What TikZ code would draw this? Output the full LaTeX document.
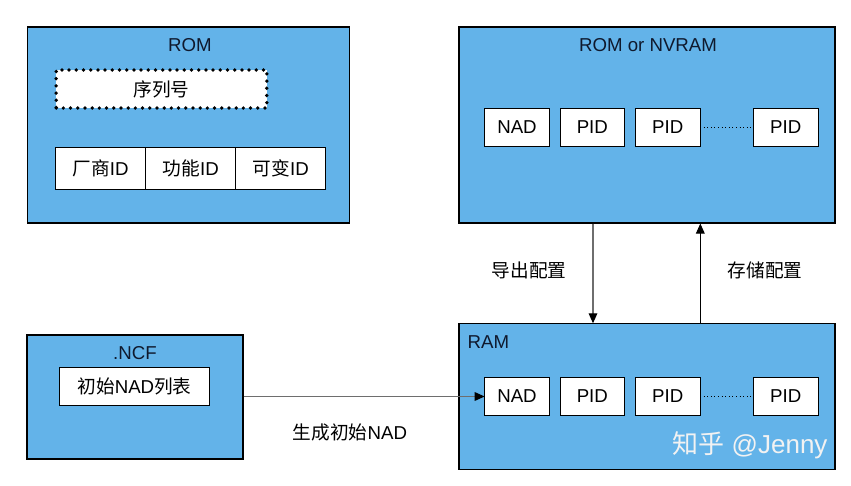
\documentclass[tikz,border=0pt]{standalone}
\usepackage{fontspec}
\setmainfont{Liberation Sans}
\newfontfamily\cjk{Noto Sans CJK SC}
\usetikzlibrary{positioning, arrows.meta}
\definecolor{panelbg}{RGB}{99,179,233}
\definecolor{wire}{RGB}{110,110,110}
\definecolor{ink}{RGB}{15,25,45}
\tikzset{
  panel/.style={rectangle, draw, fill=panelbg, line width=0.8pt, inner sep=0pt},
  cell/.style={rectangle, draw, fill=white, line width=0.6pt, outer sep=0pt, minimum width=48.5pt, minimum height=28.5pt, inner sep=0pt, font=\fontsize{14}{16}\selectfont},
  dotbox/.style={cell, minimum width=158pt, line width=2.8pt, line cap=round, dash pattern=on 0pt off 5.4pt},
  title/.style={font=\fontsize{14}{16}\selectfont, text=ink, inner sep=1pt},
  note/.style={font=\fontsize{14}{16}\selectfont\cjk, inner sep=1pt},
  flow/.style={line width=0.8pt, -{Triangle[length=7.5pt, width=6.5pt, color=black]}},
}

\begin{document}
\begin{tikzpicture}[x=0.75pt, y=-0.75pt, node distance=8pt]
\useasboundingbox (0,0) rectangle (851,486);
% panels
\node[panel, minimum width=242pt, minimum height=147pt] (rom) at (188.5,125) {};
\node[panel, minimum width=282pt, minimum height=147pt] (nvram) at (647,125) {};
\node[panel, minimum width=282pt, minimum height=109pt] (ram) at (647,396.5) {};
\node[panel, minimum width=162pt, minimum height=93pt] (ncf) at (135,397) {};
\node[title] (romtitle) at (190,45) {ROM};
\node[title] (nvramtitle) at (648,45) {ROM or NVRAM};
\node[title, anchor=west] (ramtitle) at (466,342) {RAM};
\node[title] (ncftitle) at (135,353) {.NCF};

% ROM contents
\node[dotbox] (serial) at (161.5,89) {{\cjk 序列号}};
\node[cell, minimum width=68pt, minimum height=31.5pt] (vendor) at (100.5,168) {{\cjk 厂商}ID};
\node[cell, minimum width=67.5pt, minimum height=31.5pt, right=0pt of vendor] (function) {{\cjk 功能}ID};
\node[cell, minimum width=67.5pt, minimum height=31.5pt, right=0pt of function] (variant) {{\cjk 可变}ID};

% stored configuration
\node[cell] (nadrom) at (517,127) {NAD};
\node[cell, right=of nadrom] (pidroma) {PID};
\node[cell, right=of pidroma] (pidromb) {PID};
\node[cell, right=40pt of pidromb] (pidromn) {PID};
\draw[dotted, line width=0.7pt] (pidromb.east) -- (pidromn.west);

% working configuration
\node[cell] (nadram) at (517,396.5) {NAD};
\node[cell, right=of nadram] (pidrama) {PID};
\node[cell, right=of pidrama] (pidramb) {PID};
\node[cell, right=40pt of pidramb] (pidramn) {PID};
\draw[dotted, line width=0.7pt] (pidramb.east) -- (pidramn.west);

% .NCF contents
\node[cell, minimum width=113pt] (initlist) at (134.5,386) {{\cjk 初始}NAD{\cjk 列表}};

% flows
\draw[flow, draw=wire] ([xshift=-40.5pt]nvram.south) -- ([xshift=-40.5pt]ram.north);
\draw[flow] ([xshift=40pt]ram.north) -- ([xshift=40pt]nvram.south);
\draw[flow, draw=wire] (ncf.east |- nadram) -- (nadram.west);
\node[note] (export) at (529,270) {导出配置};
\node[note] (store) at (765,270) {存储配置};
\node[title, text=black] (generate) at (350,432) {{\cjk 生成初始}NAD};

\node[font=\fontsize{19.5}{22}\selectfont, text=white!90!gray] (mark) at (750,445) {{\cjk 知乎} @Jenny};
\end{tikzpicture}
\end{document}
